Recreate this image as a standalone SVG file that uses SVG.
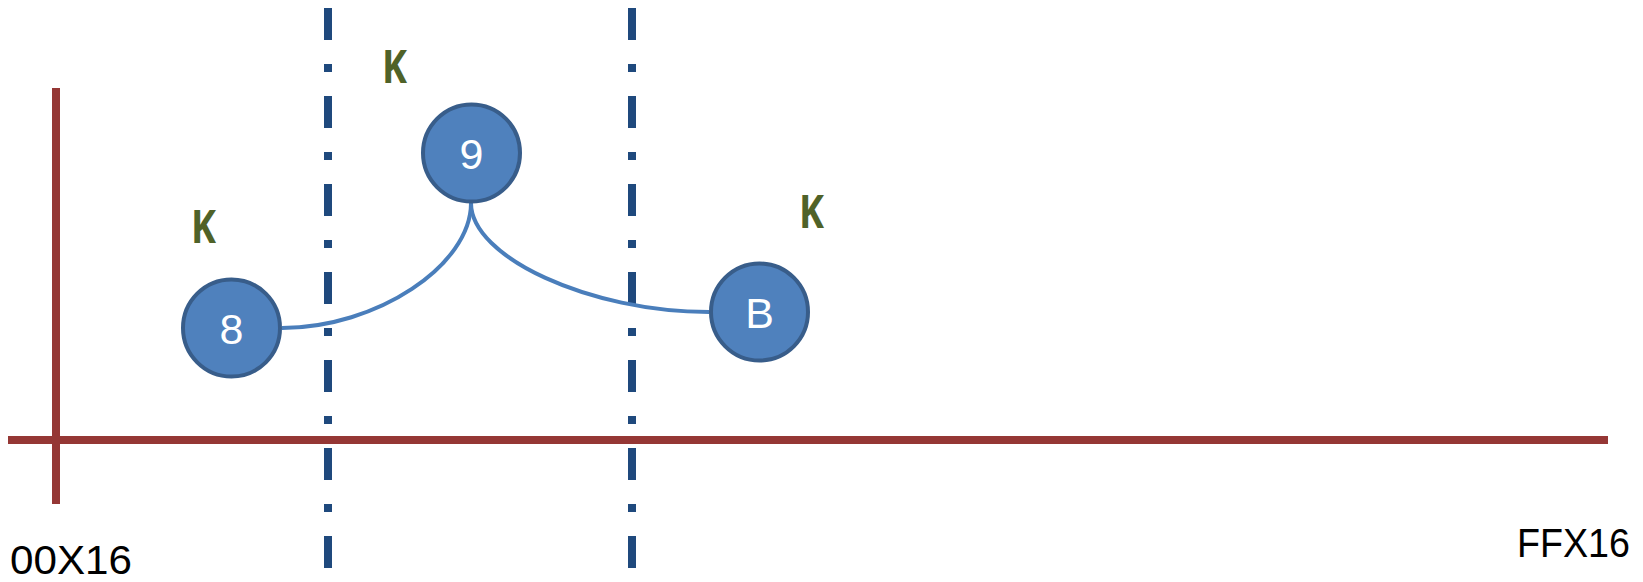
<svg xmlns="http://www.w3.org/2000/svg" width="1643" height="582" viewBox="0 0 1643 582">
<style>
.axis{stroke:#953735;stroke-width:8;fill:none}
.div{stroke:#1F497D;stroke-width:8;fill:none;stroke-dasharray:32 24 8 24}
.conn{stroke:#4A7EBB;stroke-width:4;fill:none}
.node circle{fill:#4F81BD;stroke:#385D8A;stroke-width:4}
.node text{fill:#FFFFFF;font-family:"Liberation Sans",Arial,sans-serif;font-size:43px;text-anchor:middle}
.k{fill:#4F6228;font-family:"Open Sans","Liberation Sans",Arial,sans-serif;font-weight:bold;font-size:47px}
.lbl{fill:#000000;font-family:"Liberation Sans",Arial,sans-serif;font-size:40px}
</style>
<rect width="1643" height="582" fill="#FFFFFF"/>
<g id="axes">
<line class="axis" x1="8" y1="440" x2="1608" y2="440"/>
<line class="axis" x1="56" y1="88" x2="56" y2="504"/>
</g>
<g id="dividers">
<line class="div" x1="328" y1="8" x2="328" y2="568"/>
<line class="div" x1="632" y1="8" x2="632" y2="568"/>
</g>
<g id="labels">
<text class="k" x="382" y="83" textLength="25" lengthAdjust="spacingAndGlyphs">K</text>
<text class="k" x="191" y="243" textLength="25" lengthAdjust="spacingAndGlyphs">K</text>
<text class="k" x="799" y="228" textLength="25" lengthAdjust="spacingAndGlyphs">K</text>
<text class="lbl" x="10" y="574" textLength="122" lengthAdjust="spacingAndGlyphs">00X16</text>
<text class="lbl" x="1517" y="557" textLength="113" lengthAdjust="spacingAndGlyphs">FFX16</text>
</g>
<g id="connectors">
<path class="conn" d="M282,328 C376.5,328 471,265.5 471,203"/>
<path class="conn" d="M471,203 C471,257.5 590,312 709,312"/>
</g>
<g id="node-8" class="node">
<circle cx="231.5" cy="328" r="48.5"/>
<text x="231.5" y="344">8</text>
</g>
<g id="node-9" class="node">
<circle cx="471.5" cy="153" r="48.5"/>
<text x="471.5" y="169">9</text>
</g>
<g id="node-B" class="node">
<circle cx="759.5" cy="312" r="48.5"/>
<text x="759.5" y="328">B</text>
</g>
</svg>
